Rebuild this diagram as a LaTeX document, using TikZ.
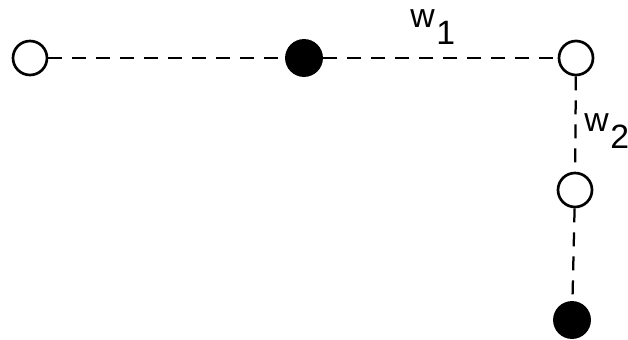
\documentclass[tikz,border=0pt]{standalone}
\usepackage{fontspec}
\setmainfont{Liberation Sans}
\usetikzlibrary{positioning}
\tikzset{
  lbl/.style      = {font=\fontsize{24}{29}\selectfont, inner sep=0pt, anchor=base west},
  opennode/.style = {circle, draw, line width=1.9pt, fill=white,
                     minimum size=0.85cm, inner sep=0pt},
  fullnode/.style = {circle, draw, line width=1.9pt, fill=black,
                     minimum size=0.88cm, inner sep=0pt},
  link/.style     = {line width=1.6pt, dash pattern=on 0.35cm off 0.25cm}
}
\newcommand{\wsub}[1]{w\kern0.05em\raisebox{-0.48em}{#1}}

\begin{document}
\begin{tikzpicture}[x=0.025cm, y=-0.025cm]
  \useasboundingbox (0,0) rectangle (628,340);
  % nodes
  \node[opennode] (left)  at (30,58)  {};
  \node[fullnode] (mid)   at (304,58) {};
  \node[opennode] (right) at (576,58) {};
  \node[opennode] (low)   at (575,190) {};
  \node[fullnode] (foot)  at (572,320) {};
  % links
  \draw[link] (left) -- (mid);
  \draw[link] (mid) -- (right);
  \draw[link] (right) -- (low);
  \draw[link] (low) -- (foot);
  % weights
  \node[lbl] (wone) at (410,28)  {\wsub{1}};
  \node[lbl] (wtwo) at (584,132) {\wsub{2}};
\end{tikzpicture}
\end{document}
